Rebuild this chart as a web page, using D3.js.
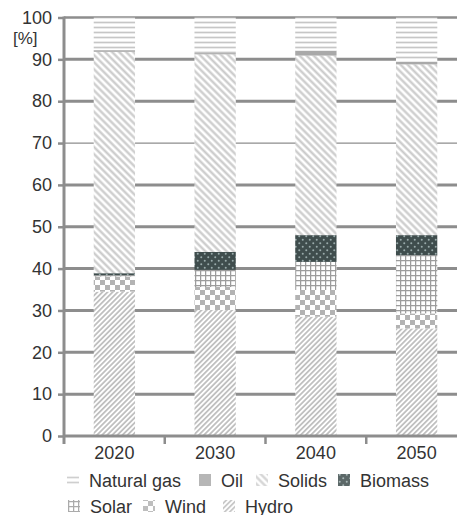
<!DOCTYPE html>
<html>
<head>
<meta charset="utf-8">
<script src="https://cdn.jsdelivr.net/npm/d3@7"></script>
<style>
  html, body { margin: 0; padding: 0; background: #fff; }
  svg { display: block; font-family: "Liberation Sans", Arial, sans-serif; }
</style>
</head>
<body>
<svg id="chart" width="457" height="515"></svg>
<script>
// ---- data ----
const years = ["2020", "2030", "2040", "2050"];
const hydro      = [34.5, 30.1, 28.5, 25.7];
const wind       = [3.6, 5.5, 6.4, 3.6];
const solar      = [0.3, 4.1, 6.7, 13.9];
const biomass    = [0.5, 4.3, 6.4, 4.8];
const solids     = [52.9, 47.2, 42.9, 40.8];
const oil        = [0.4, 0.3, 1.2, 0.6];
const naturalGas = [7.8, 8.5, 7.9, 10.6];
const yTicks = [0, 10, 20, 30, 40, 50, 60, 70, 80, 90, 100];
const seriesKeys = ["Hydro", "Wind", "Solar", "Biomass", "Solids", "Oil", "Natural gas"];
const legendRow1 = ["Natural gas", "Oil", "Solids", "Biomass"];
const legendRow2 = ["Solar", "Wind", "Hydro"];

const table = years.map((y, i) => ({
  year: y,
  "Hydro": hydro[i], "Wind": wind[i], "Solar": solar[i], "Biomass": biomass[i],
  "Solids": solids[i], "Oil": oil[i], "Natural gas": naturalGas[i]
}));

const svg = d3.select("#chart");
const defs = svg.append("defs");

// ---- patterns ----
function pat(id, w, h, transform) {
  const p = defs.append("pattern").attr("id", id)
    .attr("patternUnits", "userSpaceOnUse").attr("width", w).attr("height", h);
  if (transform) p.attr("patternTransform", transform);
  return p;
}
let p;
p = pat("p-gas", 10, 5);
p.append("rect").attr("width", 10).attr("height", 5).attr("fill", "#fff");
p.append("line").attr("x1", 0).attr("x2", 10).attr("y1", 2.5).attr("y2", 2.5)
  .attr("stroke", "#c6c6c6").attr("stroke-width", 1.7);

p = pat("p-oil", 4, 4);
p.append("rect").attr("width", 4).attr("height", 4).attr("fill", "#a9a9a9");

p = pat("p-solids", 5, 10, "rotate(-45)");
p.append("rect").attr("width", 5).attr("height", 10).attr("fill", "#fff");
p.append("line").attr("x1", 2.5).attr("x2", 2.5).attr("y1", 0).attr("y2", 10)
  .attr("stroke", "#c9c9c9").attr("stroke-width", 2.2);

p = pat("p-hydro", 3.6, 10, "rotate(45)");
p.append("rect").attr("width", 3.6).attr("height", 10).attr("fill", "#fff");
p.append("line").attr("x1", 1.8).attr("x2", 1.8).attr("y1", 0).attr("y2", 10)
  .attr("stroke", "#b8b8b8").attr("stroke-width", 1.6);

p = pat("p-wind", 10, 10);
p.append("rect").attr("width", 10).attr("height", 10).attr("fill", "#fff");
p.append("rect").attr("width", 5).attr("height", 5).attr("fill", "#b3b3b3");
p.append("rect").attr("x", 5).attr("y", 5).attr("width", 5).attr("height", 5).attr("fill", "#b3b3b3");

p = pat("p-solar", 5, 5);
p.append("rect").attr("width", 5).attr("height", 5).attr("fill", "#fff");
p.append("line").attr("x1", 0.6).attr("x2", 0.6).attr("y1", 0).attr("y2", 5)
  .attr("stroke", "#9c9c9c").attr("stroke-width", 1.3);
p.append("line").attr("x1", 0).attr("x2", 5).attr("y1", 0.6).attr("y2", 0.6)
  .attr("stroke", "#9c9c9c").attr("stroke-width", 1.3);

p = pat("p-biomass", 7, 7);
p.append("rect").attr("width", 7).attr("height", 7).attr("fill", "#3f4d4d");
p.append("circle").attr("cx", 1.75).attr("cy", 1.75).attr("r", 1).attr("fill", "#9aabab");
p.append("circle").attr("cx", 5.25).attr("cy", 5.25).attr("r", 1).attr("fill", "#9aabab");

const fills = {
  "Natural gas": "url(#p-gas)", "Oil": "url(#p-oil)", "Solids": "url(#p-solids)",
  "Biomass": "url(#p-biomass)", "Solar": "url(#p-solar)", "Wind": "url(#p-wind)",
  "Hydro": "url(#p-hydro)"
};

// ---- scales ----
const x = d3.scaleBand().domain(years).range([64, 467]).paddingInner(0.59).paddingOuter(0.295);
const y = d3.scaleLinear().domain([0, 100]).range([436, 17.5]);
const axisColor = "#8d8d8d";
const textColor = "#333";

// gridlines
svg.append("g").selectAll("line").data(yTicks.filter(d => d > 0)).join("line")
  .attr("x1", 64).attr("x2", 457)
  .attr("y1", d => y(d)).attr("y2", d => y(d))
  .attr("stroke", axisColor)
  .attr("stroke-width", d => d === 70 ? 1.3 : (d === 100 ? 2.4 : 3));

// bars
const stacked = d3.stack().keys(seriesKeys)(table);
svg.append("g").selectAll("g").data(stacked).join("g")
  .attr("fill", s => fills[s.key])
  .selectAll("rect").data(s => s).join("rect")
  .attr("x", d => x(d.data.year))
  .attr("width", x.bandwidth())
  .attr("y", d => y(d[1]))
  .attr("height", d => y(d[0]) - y(d[1]));

// y axis
const yAxis = d3.axisLeft(y).tickValues(yTicks).tickSize(6).tickPadding(6);
const gy = svg.append("g").attr("transform", "translate(64,0)").call(yAxis);
gy.select(".domain").remove();
gy.selectAll(".tick line").attr("stroke", axisColor).attr("stroke-width", 2.5);
gy.selectAll(".tick text").attr("fill", textColor).attr("font-size", 18)
  .attr("font-family", "'Liberation Sans', Arial, sans-serif");
svg.append("line").attr("x1", 64).attr("x2", 64).attr("y1", y(100) - 1).attr("y2", y(0) + 8)
  .attr("stroke", axisColor).attr("stroke-width", 3);

// x axis
svg.append("line").attr("x1", 64).attr("x2", 457).attr("y1", y(0)).attr("y2", y(0))
  .attr("stroke", axisColor).attr("stroke-width", 3);
const step = x.step();
svg.append("g").selectAll("line").data(years.slice(1)).join("line")
  .attr("x1", d => x(d) - step * x.paddingInner() / 2)
  .attr("x2", d => x(d) - step * x.paddingInner() / 2)
  .attr("y1", y(0)).attr("y2", y(0) + 8)
  .attr("stroke", axisColor).attr("stroke-width", 2.5);
svg.append("g").selectAll("text").data(years).join("text")
  .attr("x", d => x(d) + x.bandwidth() / 2)
  .attr("y", y(0) + 23)
  .attr("text-anchor", "middle")
  .attr("font-size", 18).attr("fill", textColor)
  .text(d => d);

// unit label
svg.append("text").attr("x", 13).attr("y", 44).attr("font-size", 17)
  .attr("fill", textColor).text("[%]");

// legend
const legendX1 = [67, 199, 256, 338];
const legendX2 = [68, 143, 223];
function drawLegend(items, xs, cy) {
  const g = svg.append("g");
  const it = g.selectAll("g").data(items).join("g")
    .attr("transform", (d, i) => `translate(${xs[i]},${cy})`);
  it.append("rect").attr("x", 0).attr("y", -6).attr("width", 12).attr("height", 12)
    .attr("fill", d => fills[d]).attr("opacity", 0.85);
  it.append("text").attr("x", 22).attr("y", 6.5).attr("font-size", 18)
    .attr("fill", textColor).text(d => d);
}
drawLegend(legendRow1, legendX1, 480);
drawLegend(legendRow2, legendX2, 506);
</script>
</body>
</html>
